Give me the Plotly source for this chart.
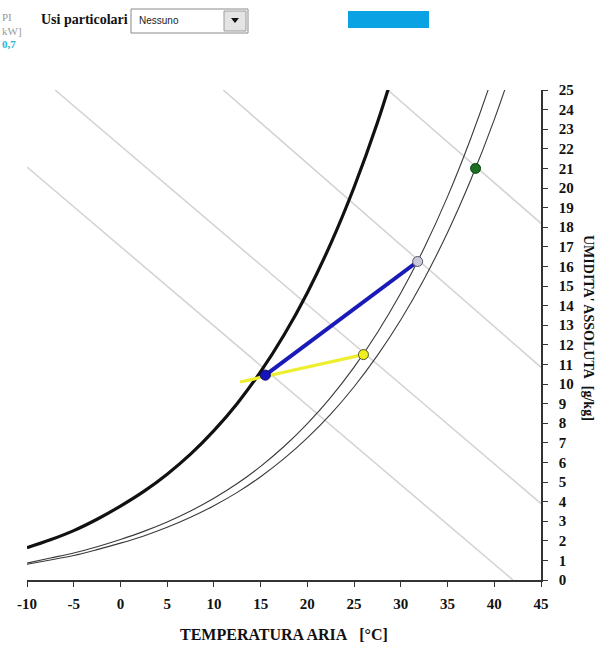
import plotly.graph_objects as go

# ---- chart data -------------------------------------------------------
# temperature grid [°C] for the relative-humidity curves
curve_t = [-10, -7.5, -5, -2.5, 0, 2.5, 5, 7.5, 10, 12.5, 15, 17.5, 20,
           22.5, 25, 27.5, 30, 32.5, 35, 37.5, 40, 42.5]
# saturation curve (thick), absolute humidity [g/kg]
sat_t = [-10, -7.5, -5, -2.5, 0, 2.5, 5, 7.5, 10, 12.5, 15, 17.5, 20,
         22.5, 25, 27.5, 30]
sat_w = [1.65, 2.05, 2.52, 3.10, 3.77, 4.52, 5.40, 6.42, 7.62, 9.01, 10.63,
         12.50, 14.66, 17.16, 20.04, 23.34, 27.14]
# comfort boundary curves (thin)
upper_w = [0.86, 1.12, 1.38, 1.70, 2.07, 2.48, 2.96, 3.52, 4.17, 4.92, 5.80,
           6.81, 7.98, 9.32, 10.86, 12.63, 14.64, 16.94, 19.56, 22.55, 25.94,
           29.79]
lower_w = [0.80, 1.02, 1.25, 1.55, 1.88, 2.25, 2.69, 3.20, 3.79, 4.47, 5.27,
           6.19, 7.25, 8.46, 9.86, 11.46, 13.28, 15.36, 17.73, 20.43, 23.49,
           26.96]

# constant-enthalpy lines: start/end temperature and humidity
enth_t = [[-10, 42.0], [-7.0, 45], [11.0, 45], [28.6, 45]]
enth_w = [[21.07, 0.0], [25.0, 3.9], [25.0, 10.85], [25.0, 18.2]]

# air states
state_t = [15.5, 31.8, 26.0, 38.0]
state_w = [10.45, 16.25, 11.5, 21.0]
state_fill = ["#1515c0", "#c9c9da", "#eeee22", "#1c6e22"]
state_edge = ["#0a0a60", "#55556a", "#555522", "#0f4414"]

# transformation paths
blue_path_t = [15.5, 31.8]
blue_path_w = [10.45, 16.25]
yellow_path_t = [12.8, 26.0]
yellow_path_w = [10.1, 11.5]

x_ticks = list(range(-10, 46, 5))
x_tick_text = ["-10", "-5", "0", "5", "10", "15", "20", "25", "30", "35",
               "40", "45"]
y_ticks = list(range(0, 26, 1))

# ---- layout helpers (pixel -> paper) -----------------------------------
W, H = 613, 646
L, R, T, B = 27, 541, 90, 580


def px(xp):
    return (xp - L) / (R - L)


def py(yp):
    return (B - yp) / (B - T)


SERIF = "Liberation Serif"
fig = go.Figure()

for tt, ww in zip(enth_t, enth_w):
    fig.add_trace(go.Scatter(x=tt, y=ww, mode="lines",
                             line=dict(color="#d4d4d4", width=1.6),
                             hoverinfo="skip", showlegend=False))

for ww in (upper_w, lower_w):
    fig.add_trace(go.Scatter(x=curve_t, y=ww, mode="lines",
                             line=dict(color="#3a3a3a", width=1.1,
                                       shape="spline"),
                             showlegend=False))

fig.add_trace(go.Scatter(x=sat_t, y=sat_w, mode="lines",
                         line=dict(color="#111111", width=3.2, shape="spline"),
                         showlegend=False))

fig.add_trace(go.Scatter(x=yellow_path_t, y=yellow_path_w, mode="lines",
                         line=dict(color="#eeee30", width=3.2),
                         showlegend=False))
fig.add_trace(go.Scatter(x=blue_path_t, y=blue_path_w, mode="lines",
                         line=dict(color="#1a1ab8", width=4),
                         showlegend=False))

fig.add_trace(go.Scatter(x=state_t, y=state_w, mode="markers",
                         marker=dict(size=10, color=state_fill,
                                     line=dict(color=state_edge, width=1)),
                         showlegend=False))

axis_font = dict(family=SERIF, size=15, color="#111111", weight="bold")

fig.update_layout(
    width=W, height=H,
    margin=dict(l=L, r=W - R, t=T, b=H - B, pad=0),
    paper_bgcolor="white", plot_bgcolor="white",
    xaxis=dict(range=[-10, 45], tickvals=x_ticks, ticktext=x_tick_text,
               showgrid=False, zeroline=False, showline=True,
               linecolor="#333333", linewidth=1.5, ticks="outside",
               ticklen=5, tickwidth=1.2, tickcolor="#333333",
               tickfont=axis_font, ticklabelstandoff=4),
    yaxis=dict(range=[0, 25], tickvals=y_ticks, side="right",
               showgrid=False, zeroline=False, showline=True,
               linecolor="#333333", linewidth=1.5, ticks="outside",
               ticklen=5, tickwidth=1.2, tickcolor="#333333",
               tickfont=axis_font, ticklabelstandoff=8),
)

annotations = [
    dict(x=px(284), y=py(634), text="TEMPERATURA ARIA\u00a0\u00a0\u00a0[°C]",
         font=dict(family=SERIF, size=16, color="#111111", weight="bold")),
    dict(x=px(589), y=py(328), text="UMIDITA' ASSOLUTA\u00a0\u00a0[g/kg]",
         textangle=90,
         font=dict(family=SERIF, size=14, color="#111111", weight="bold")),
    dict(x=px(130), y=py(19), text="Usi particolari", xanchor="right",
         font=dict(family=SERIF, size=14, color="#111111", weight="bold")),
    dict(x=px(137), y=py(20), text="Nessuno", xanchor="left",
         font=dict(family="Liberation Sans", size=10, color="#222222")),
    dict(x=px(0), y=py(17), text="PI", xanchor="left",
         font=dict(family=SERIF, size=11, color="#9a9a9a")),
    dict(x=px(0), y=py(31), text="kW]", xanchor="left",
         font=dict(family=SERIF, size=11, color="#9a9a9a")),
    dict(x=px(0), y=py(44), text="0,7", xanchor="left",
         font=dict(family=SERIF, size=11, color="#29b4d2", weight="bold")),
]
for a in annotations:
    a.setdefault("xanchor", "center")
    a.update(xref="paper", yref="paper", showarrow=False, yanchor="middle")
fig.update_layout(annotations=annotations)


def rect(x0, y0, x1, y1, **kw):
    return dict(type="rect", xref="paper", yref="paper",
                x0=px(x0), x1=px(x1), y0=py(y1), y1=py(y0), **kw)


shapes = [
    rect(131, 9, 248, 33, fillcolor="white",
         line=dict(color="#8a8a8a", width=1)),
    rect(224, 11, 246, 31, fillcolor="#e4e4e4",
         line=dict(color="#9a9a9a", width=1)),
    dict(type="path", xref="paper", yref="paper",
         path=(f"M {px(231)} {py(18)} L {px(239)} {py(18)} "
               f"L {px(235)} {py(23)} Z"),
         fillcolor="#111111", line=dict(width=0)),
    rect(348, 11, 429, 28, fillcolor="#0aa2e2", line=dict(width=0)),
]
fig.update_layout(shapes=shapes)

fig.write_html("out.html")
